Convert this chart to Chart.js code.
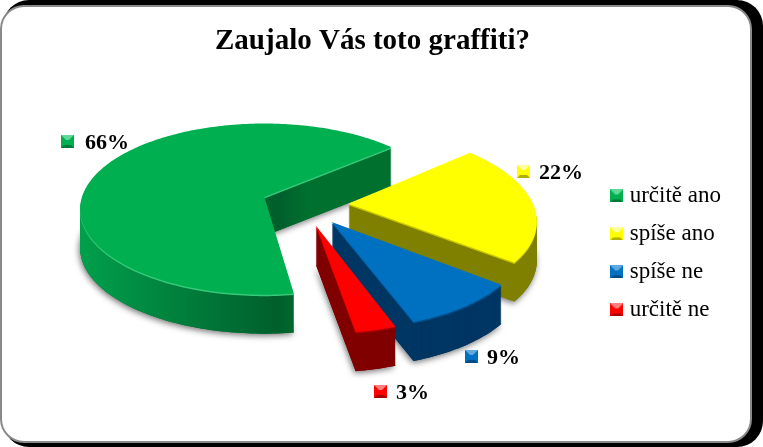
<!DOCTYPE html>
<html>
<head>
<meta charset="utf-8">
<script src="https://cdn.jsdelivr.net/npm/chart.js@4"></script>
<style>
  html, body { margin: 0; padding: 0; background: #fff; overflow: hidden; }
  #frame { position: absolute; left: 3px; top: 0; width: 760px; height: 447px; background: #000; border-radius: 26px; }
  #panel { position: absolute; left: 2px; top: 7px; width: 748px; height: 434px; background: #fff; border-radius: 22px; box-shadow: 0 0 0 2px #8a8a8a; }
  #myChart { position: absolute; left: 0; top: 0; }
</style>
</head>
<body>
<div id="frame"></div>
<div id="panel"></div>
<canvas id="myChart" width="763" height="447"></canvas>
<script>
const categories = ['určitě ano', 'spíše ano', 'spíše ne', 'určitě ne'];
const percents = [66, 22, 9, 3];

const topColors = ['#00b050', '#ffff00', '#0070c0', '#ff0000'];
const wallColors = ['#00702f', '#808000', '#003663', '#800000'];
const rimColors = ['#35c97a', '#c8c800', '#00508c', '#a80000'];
const lightColors = ['#5fd898', '#ffffa0', '#5fa8e0', '#ff8080'];
const darkColors = ['#007a38', '#b0b000', '#004c86', '#a80000'];

// how far each slice is pulled out, in pie radii
const explode = [0.226, 0.245, 0.25, 0.25];
// where the value labels sit (marker left edge, text middle)
const labelSpots = [[61, 143], [517, 173], [465, 358], [374, 393]];
const labelGaps = [24, 22, 22, 22];

// tilted plane of the pie, as seen in the picture
const origin = { x: 264, y: 197.5 };
const scaleX = 182.5, scaleY = 84, persp = 0.14;
const pieCentre = { x: 0.213, y: 0.0757 };
const depth = 39;

function makeIcon(i) {
  const c = document.createElement('canvas');
  c.width = 13; c.height = 13;
  const g = c.getContext('2d');
  g.fillStyle = topColors[i];
  g.fillRect(0, 0, 13, 13);
  const tri = (col, x1, y1, x2, y2) => {
    g.fillStyle = col;
    g.beginPath(); g.moveTo(x1, y1); g.lineTo(x2, y2); g.lineTo(6.5, 6.5); g.closePath(); g.fill();
  };
  tri(lightColors[i], 0, 0, 13, 0);
  tri(darkColors[i], 0, 13, 13, 13);
  g.fillStyle = topColors[i];
  g.fillRect(2, 5, 9, 5);
  return c;
}
const icons = categories.map((c, i) => makeIcon(i));

// hands the library's arc path over to the real canvas through the pie's tilted plane
function tiltedCtx(ctx, el, i, drop, fill) {
  const mid = (el.startAngle + el.endAngle) / 2;
  const put = (px, py) => {
    const X = (px - el.x) / el.outerRadius + explode[i] * Math.cos(mid) + pieCentre.x;
    const Y = (py - el.y) / el.outerRadius + explode[i] * Math.sin(mid) + pieCentre.y;
    const w = 1 - persp * Y;
    return [origin.x + scaleX * X / w, origin.y + scaleY * Y / w + drop];
  };
  return {
    save() {}, restore() {}, translate() {}, clip() {}, stroke() {},
    beginPath() { ctx.beginPath(); },
    closePath() { ctx.closePath(); },
    moveTo(x, y) { ctx.moveTo(...put(x, y)); },
    lineTo(x, y) { ctx.lineTo(...put(x, y)); },
    arc(x, y, r, a, b, ccw) {
      if (r <= 0) { ctx.lineTo(...put(x, y)); return; }
      const n = Math.max(2, Math.ceil(Math.abs(b - a) / 0.02));
      for (let k = 0; k <= n; k++) {
        const t = a + (b - a) * k / n;
        ctx.lineTo(...put(x + r * Math.cos(t), y + r * Math.sin(t)));
      }
    },
    fill() { ctx.fillStyle = fill || this.fillStyle; ctx.fill(); }
  };
}

const pie3d = {
  id: 'pie3d',
  beforeDatasetsDraw(chart) {
    const ctx = chart.ctx;
    const arcs = chart.getDatasetMeta(0).data;

    const greenWall = ctx.createLinearGradient(79, 0, 385, 0);
    greenWall.addColorStop(0, '#00a04c');
    greenWall.addColorStop(0.65, '#005f2c');
    greenWall.addColorStop(0.75, '#00702f');
    greenWall.addColorStop(1, '#00702f');

    // soft shadow under the slices
    ctx.save();
    ctx.shadowColor = 'rgba(0,0,0,0.55)';
    ctx.shadowBlur = 6;
    ctx.shadowOffsetX = -1;
    ctx.shadowOffsetY = 2;
    arcs.forEach((el, i) => el.draw(tiltedCtx(ctx, el, i, depth, wallColors[i])));
    ctx.restore();

    arcs.forEach((el, i) => {
      const wall = i === 0 ? greenWall : wallColors[i];
      for (let d = depth; d > 1; d--) el.draw(tiltedCtx(ctx, el, i, d, wall));
      el.draw(tiltedCtx(ctx, el, i, 1.5, rimColors[i]));
      el.draw(tiltedCtx(ctx, el, i, 0));
    });

    ctx.save();
    ctx.font = 'bold 22px "Liberation Serif"';
    ctx.fillStyle = '#000';
    ctx.textBaseline = 'middle';
    percents.forEach((v, i) => {
      const [x, y] = labelSpots[i];
      ctx.drawImage(icons[i], x, y - 8);
      ctx.fillText(v + '%', x + labelGaps[i], y);
    });
    ctx.restore();
    return false;
  }
};

new Chart(document.getElementById('myChart'), {
  type: 'pie',
  data: {
    labels: categories,
    datasets: [{
      data: percents,
      backgroundColor: topColors,
      borderWidth: 0
    }]
  },
  options: {
    responsive: false,
    animation: false,
    rotation: 172,
    layout: { padding: { top: 0, right: 32, bottom: 0, left: 14 } },
    plugins: {
      tooltip: { enabled: false },
      title: {
        display: true,
        text: 'Zaujalo Vás toto graffiti?',
        color: '#000',
        font: { family: '"Liberation Serif"', size: 29, weight: 'bold' },
        padding: { top: 24, bottom: 0 }
      },
      legend: {
        position: 'right',
        fullSize: false,
        labels: {
          usePointStyle: true,
          boxWidth: 3,
          padding: 15,
          color: '#000',
          font: { family: '"Liberation Serif"', size: 23 },
          generateLabels: () => categories.map((text, i) => ({
            text, index: i, pointStyle: icons[i], fillStyle: topColors[i],
            strokeStyle: topColors[i], lineWidth: 0, fontColor: '#000', hidden: false
          }))
        }
      }
    }
  },
  plugins: [pie3d]
});
</script>
</body>
</html>
